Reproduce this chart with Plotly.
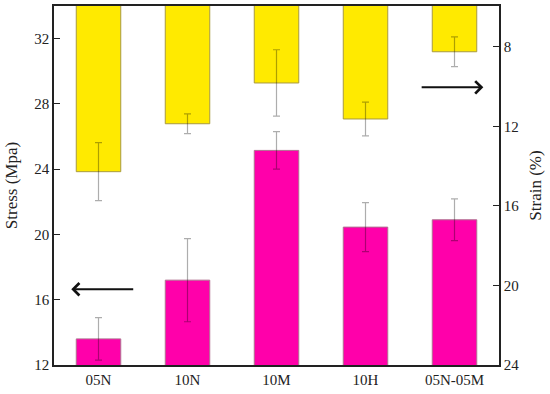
import plotly.graph_objects as go

categories = ["05N", "10N", "10M", "10H", "05N-05M"]
stress = [13.6, 17.2, 25.15, 20.45, 20.9]
stress_err = [1.3, 2.55, 1.15, 1.5, 1.28]
strain = [14.28, 11.87, 9.82, 11.63, 8.25]
strain_err = [1.46, 0.5, 1.67, 0.85, 0.75]

left_ticks = [12, 16, 20, 24, 28, 32]
right_ticks = [8, 12, 16, 20, 24]

FONT = "Liberation Serif, Times New Roman, serif"
ERR = "rgba(0,0,0,0.32)"

fig = go.Figure()
fig.add_trace(go.Bar(
    x=categories, y=strain, yaxis="y2", width=0.5,
    marker=dict(color="#FFEA00", line=dict(color="#A89A40", width=1)),
    error_y=dict(type="data", array=strain_err, color=ERR, thickness=1.2, width=3.5),
    showlegend=False,
))
fig.add_trace(go.Bar(
    x=categories, y=stress, yaxis="y", width=0.5,
    marker=dict(color="#FF00AA", line=dict(color="#B07090", width=1)),
    error_y=dict(type="data", array=stress_err, color=ERR, thickness=1.2, width=3.5),
    showlegend=False,
))

fig.update_layout(
    width=550, height=394,
    margin=dict(l=53.5, r=51, t=5.7, b=29),
    barmode="overlay",
    plot_bgcolor="white", paper_bgcolor="white",
    font=dict(family=FONT, size=15, color="#222"),
    xaxis=dict(
        showline=True, mirror=True, linecolor="#222", linewidth=1.5,
        ticks="", showgrid=False, tickfont=dict(size=15), automargin=False,
    ),
    yaxis=dict(
        range=[12, 34], tickvals=left_ticks, ticks="inside", ticklen=6,
        tickcolor="#222", tickwidth=1.2, automargin=False,
        showline=True, linecolor="#222", linewidth=1.5, showgrid=False, zeroline=False,
        title=dict(text="Stress (Mpa)", font=dict(size=17), standoff=12),
        tickfont=dict(size=15),
    ),
    yaxis2=dict(
        range=[24, 5.95], overlaying="y", side="right", tickvals=right_ticks,
        ticks="inside", ticklen=6, tickcolor="#222", tickwidth=1.2, automargin=False,
        showline=True, linecolor="#222", linewidth=1.5, showgrid=False, zeroline=False,
        title=dict(text="Strain (%)", font=dict(size=17), standoff=11),
        tickfont=dict(size=15),
    ),
)

fig.add_annotation(x=-0.306, y=16.64, xref="x", yref="y",
                   ax=0.407, ay=16.64, axref="x", ayref="y",
                   text="", showarrow=True, arrowhead=4, arrowsize=1.2,
                   arrowwidth=2, arrowcolor="#111")
fig.add_annotation(x=4.324, y=10.04, xref="x", yref="y2",
                   ax=3.614, ay=10.04, axref="x", ayref="y2",
                   text="", showarrow=True, arrowhead=4, arrowsize=1.2,
                   arrowwidth=2, arrowcolor="#111")

fig.write_html("out.html", config={"displayModeBar": False},
               post_script="document.body.style.margin='0';")
